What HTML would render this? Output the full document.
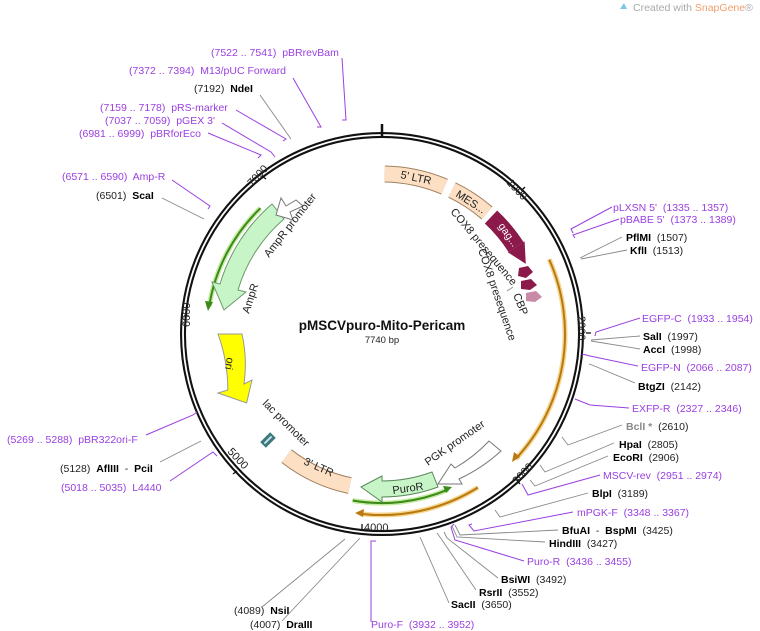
<!DOCTYPE html>
<html><head><meta charset="utf-8"><style>
body{margin:0;background:#fff}
svg{display:block;font-family:"Liberation Sans","DejaVu Sans",sans-serif;white-space:pre}
text{white-space:pre}
.p{fill:#9a3fe0;font-size:10.5px}
.k{fill:#222;font-size:10.5px}
.b{font-weight:bold;fill:#000}
.lp{stroke:#9a3fe0;stroke-width:1;fill:none}
.lg{stroke:#888;stroke-width:.9;fill:none}
.f{font-size:11px;fill:#222}
.t{fill:#222;font-size:11px}
</style></head><body>
<svg width="760" height="631" viewBox="0 0 760 631" xml:space="preserve">
<text x="633" y="11" font-size="10.5" fill="#aaa">Created with <tspan fill="#f0a070">SnapGene</tspan>®</text>
<path d="M620,9 l4,-6 l3,6z" fill="#7cc8e8"/>

<circle cx="382" cy="334" r="199" fill="none" stroke="#111" stroke-width="6"/>
<circle cx="382" cy="334" r="199" fill="none" stroke="#fff" stroke-width="1.8"/>
<line x1="382" y1="124" x2="382" y2="138" stroke="#111" stroke-width="2.5"/>

<g>
<text class="t" transform="translate(506,183) rotate(47)">1000</text>
<text class="t" transform="translate(578,316) rotate(90)">2000</text>
<text class="t" transform="translate(517,485) rotate(-47)">3000</text>
<text class="t" x="364" y="531">4000</text>
<text class="t" transform="translate(227,452) rotate(47)">5000</text>
<text class="t" transform="translate(190,327) rotate(-90)">6000</text>
<text class="t" transform="translate(252,187) rotate(-47)">7000</text>
</g>
<g stroke="#111" stroke-width="1.3">
<line x1="522" y1="190" x2="525" y2="187"/>
<line x1="586" y1="333" x2="591" y2="333"/>
<line x1="517" y1="480" x2="520" y2="484"/>
<line x1="362" y1="524" x2="362" y2="530"/>
<line x1="237" y1="471" x2="233" y2="474"/>
<line x1="184" y1="316" x2="189" y2="316"/>
<line x1="262" y1="176" x2="266" y2="179"/>
</g>

<path d="M384.8,174 A160,160 0 0 1 444.5,186.7" fill="none" stroke="#a08060" stroke-width="17"/>
<path d="M384.8,174 A160,160 0 0 1 444.5,186.7" fill="none" stroke="#fde0c4" stroke-width="15"/>
<text transform="translate(400,178) rotate(12)" class="f">5' LTR</text>
<path d="M452,190 A160,160 0 0 1 487,213" fill="none" stroke="#a08060" stroke-width="17"/>
<path d="M452,190 A160,160 0 0 1 487,213" fill="none" stroke="#fde0c4" stroke-width="15"/>
<text transform="translate(455,196) rotate(33)" class="f" font-size="10">MES...</text>
<path d="M491,217 A160,160 0 0 1 516,247" fill="none" stroke="#8b1a4a" stroke-width="18"/>
<polygon points="524.6,241.4 507.8,252.3 525.8,263.9" fill="#8b1a4a"/>
<text transform="translate(498,226) rotate(55)" fill="#fff" font-size="10.5">gag...</text>
<polygon points="519,268 528,266 533,272 526,278 518,276" fill="#8b1a4a"/>
<polygon points="521,281 531,279 537,285 530,290 521,289" fill="#8b1a4a"/>
<polygon points="526,293 536,291 542,297 535,302 526,301" fill="#c98aa8"/>
<text transform="translate(450,212) rotate(50)" class="f">COX8 presequence</text>
<text transform="translate(478,250) rotate(71)" class="f">COX8 presequence</text>
<text transform="translate(513,295) rotate(68)" class="f">CBP</text>
<line x1="513" y1="287" x2="507" y2="291" stroke="#888" stroke-width=".8"/>

<path d="M549.2,259.5 A183,183 0 0 1 515.8,458.8" fill="none" stroke="#f5d590" stroke-width="5"/>
<path d="M549.2,259.5 A183,183 0 0 1 515.8,458.8" fill="none" stroke="#b87a10" stroke-width="2"/>
<polygon points="512,462 514,452 520,457" fill="#b87a10"/>
<path d="M477.9,487.5 A181,181 0 0 1 359.9,513.7" fill="none" stroke="#f5d590" stroke-width="5"/>
<path d="M477.9,487.5 A181,181 0 0 1 359.9,513.7" fill="none" stroke="#b87a10" stroke-width="2"/>
<polygon points="355,513 364,509 363,517" fill="#b87a10"/>
<path d="M352.6,500.5 A169,169 0 0 0 448,489.6" fill="none" stroke="#c5eba0" stroke-width="5"/>
<path d="M352.6,500.5 A169,169 0 0 0 448,489.6" fill="none" stroke="#3a8a1a" stroke-width="2"/>
<polygon points="452,487 443,486 446,493" fill="#3a8a1a"/>
<path d="M260.4,208.2 A175,175 0 0 0 209.1,306.7" fill="none" stroke="#c5eba0" stroke-width="5"/>
<path d="M260.4,208.2 A175,175 0 0 0 209.1,306.7" fill="none" stroke="#3a8a1a" stroke-width="2"/>
<polygon points="208,311 205,301 213,302" fill="#3a8a1a"/>

<path d="M432,472 A147,147 0 0 1 382,481 L382,476 L361,487 L382,502 L382,497 A163,163 0 0 0 438,487 Z" fill="#c8f5c8" stroke="#5a8a5a" stroke-width="1"/>
<text transform="translate(393,494) rotate(-8)" class="f">PuroR</text>
<path d="M489,441 A152,152 0 0 1 455,468 L451,464 L438,484 L462,484 L459,479 A168,168 0 0 0 501,451 Z" fill="#fff" stroke="#777" stroke-width="1"/>
<text transform="translate(428,466) rotate(-35)" class="f">PGK promoter</text>
<path d="M286.6,456.1 A155,155 0 0 0 349.8,485.6" fill="none" stroke="#a08060" stroke-width="17"/>
<path d="M286.6,456.1 A155,155 0 0 0 349.8,485.6" fill="none" stroke="#fde0c4" stroke-width="15"/>
<text transform="translate(303,464) rotate(24)" class="f">3' LTR</text>
<g transform="translate(268,440) rotate(-45)"><rect x="-7" y="-4" width="14" height="8" fill="#3a7a7a"/><rect x="-5" y="-1" width="10" height="2" fill="#cde"/></g>
<text transform="translate(262,404) rotate(45)" class="f">lac promoter</text>
<path d="M218,334 A164,164 0 0 1 227.8,390 L218,393 L246.6,403 L252,380 L244,384 A140,140 0 0 0 242,334 Z" fill="#ffff00" stroke="#999" stroke-width="1"/>
<text transform="translate(227,357) rotate(100)" class="f">ori</text>
<path d="M272,204 A169,169 0 0 0 220,284 L212,282 L224,310 L246,292 L238,290 A149,149 0 0 1 284,219 Z" fill="#c8f5c8" stroke="#6a9a6a" stroke-width="1"/>
<text transform="translate(249,314) rotate(-72)" class="f">AmpR</text>
<path d="M296,200 L286,206 L281,198 L276,215 L293,220 L290,212 L303,206 Z" fill="#fff" stroke="#777" stroke-width="1"/>
<text transform="translate(269,258) rotate(-52)" class="f">AmpR promoter</text>

<text x="382" y="330" text-anchor="middle" font-size="13.5" font-weight="bold" fill="#111">pMSCVpuro-Mito-Pericam</text>
<text x="382" y="343" text-anchor="middle" font-size="9.5" fill="#222">7740 bp</text>

<text x="211" y="56" class="p">(7522 .. 7541)  pBRrevBam</text>
<polyline class="lp" points="342,58 346,120 342,120"/>
<text x="129" y="74" class="p">(7372 .. 7394)  M13/pUC Forward</text>
<polyline class="lp" points="293,78 321,127 317,127"/>
<text x="194" y="92" class="k">(7192)  <tspan class="b">NdeI</tspan></text>
<polyline class="lg" points="260,95 291,139"/>
<text x="100" y="111" class="p">(7159 .. 7178)  pRS-marker</text>
<polyline class="lp" points="236,110 286,139 283,141"/>
<text x="105" y="124" class="p">(7037 .. 7059)  pGEX 3'</text>
<polyline class="lp" points="222,123 271,152 275,157"/>
<text x="79" y="137" class="p">(6981 .. 6999)  pBRforEco</text>
<polyline class="lp" points="208,133 261,155 258,158"/>
<text x="62" y="180" class="p">(6571 .. 6590)  Amp-R</text>
<polyline class="lp" points="172,180 210,206 208,209"/>
<text x="96" y="199" class="k">(6501)  <tspan class="b">ScaI</tspan></text>
<polyline class="lg" points="162,198 204,219"/>

<text x="7" y="443" class="p">(5269 .. 5288)  pBR322ori-F</text>
<polyline class="lp" points="146,435 193,415 197,412"/>
<text x="60" y="472" class="k">(5128)  <tspan class="b">AflIII</tspan>  -  <tspan class="b">PciI</tspan></text>
<polyline class="lg" points="160,462 201,441"/>
<text x="61" y="491" class="p">(5018 .. 5035)  L4440</text>
<polyline class="lp" points="170,481 213,452 217,456"/>

<text x="613" y="211" class="p">pLXSN 5'  (1335 .. 1357)</text>
<polyline class="lp" points="612,207 571,229 573,233"/>
<text x="620" y="223" class="p">pBABE 5'  (1373 .. 1389)</text>
<polyline class="lp" points="619,219 573,235 575,238"/>
<text x="626" y="241" class="k"><tspan class="b">PflMI</tspan>  (1507)</text>
<polyline class="lg" points="622,237 580,258"/>
<text x="630" y="254" class="k"><tspan class="b">KflI</tspan>  (1513)</text>
<polyline class="lg" points="627,250 581,259"/>
<text x="642" y="322" class="p">EGFP-C  (1933 .. 1954)</text>
<polyline class="lp" points="640,318 596,332 595,336"/>
<text x="643" y="340" class="k"><tspan class="b">SalI</tspan>  (1997)</text>
<polyline class="lg" points="640,336 591,340"/>
<text x="643" y="353" class="k"><tspan class="b">AccI</tspan>  (1998)</text>
<polyline class="lg" points="640,349 591,341"/>
<text x="641" y="371" class="p">EGFP-N  (2066 .. 2087)</text>
<polyline class="lp" points="638,366 590,356 582,354"/>
<text x="638" y="390" class="k"><tspan class="b">BtgZI</tspan>  (2142)</text>
<polyline class="lg" points="635,383 592,365 589,364"/>
<text x="632" y="412" class="p">EXFP-R  (2327 .. 2346)</text>
<polyline class="lp" points="629,408 590,405 575,399"/>
<text x="626" y="430" class="k"><tspan font-weight="bold" fill="#888">BclI *</tspan>  (2610)</text>
<polyline class="lg" points="622,425 568,445 562,437"/>
<text x="619" y="448" class="k"><tspan class="b">HpaI</tspan>  (2805)</text>
<polyline class="lg" points="614,443 545,472 540,465"/>
<text x="613" y="461" class="k"><tspan class="b">EcoRI</tspan>  (2906)</text>
<polyline class="lg" points="608,456 535,486 530,480"/>
<text x="603" y="479" class="p">MSCV-rev  (2951 .. 2974)</text>
<polyline class="lp" points="600,475 528,495 522,484"/>
<text x="592" y="497" class="k"><tspan class="b">BlpI</tspan>  (3189)</text>
<polyline class="lg" points="588,493 500,517 495,510"/>
<text x="577" y="516" class="p">mPGK-F  (3348 .. 3367)</text>
<polyline class="lp" points="573,512 474,531 469,525 472,524"/>
<text x="562" y="534" class="k"><tspan class="b">BfuAI</tspan>  -  <tspan class="b">BspMI</tspan>  (3425)</text>
<polyline class="lg" points="558,530 460,535 455,525"/>
<text x="549" y="547" class="k"><tspan class="b">HindIII</tspan>  (3427)</text>
<polyline class="lg" points="545,542 457,537 452,526"/>
<text x="527" y="565" class="p">Puro-R  (3436 .. 3455)</text>
<polyline class="lp" points="524,561 455,540 451,527 454,524"/>
<text x="501" y="583" class="k"><tspan class="b">BsiWI</tspan>  (3492)</text>
<polyline class="lg" points="498,578 447,538 444,532"/>
<text x="479" y="596" class="k"><tspan class="b">RsrII</tspan>  (3552)</text>
<polyline class="lg" points="476,590 442,540 437,533"/>
<text x="451" y="608" class="k"><tspan class="b">SacII</tspan>  (3650)</text>
<polyline class="lg" points="449,603 420,537"/>
<text x="371" y="628" class="p">Puro-F  (3932 .. 3952)</text>
<polyline class="lp" points="371,622 371,541 376,541"/>
<text x="234" y="614" class="k">(4089)  <tspan class="b">NsiI</tspan></text>
<polyline class="lg" points="262,607 345,539"/>
<text x="250" y="628" class="k">(4007)  <tspan class="b">DraIII</tspan></text>
<polyline class="lg" points="282,621 360,538"/>
</svg>
</body></html>
